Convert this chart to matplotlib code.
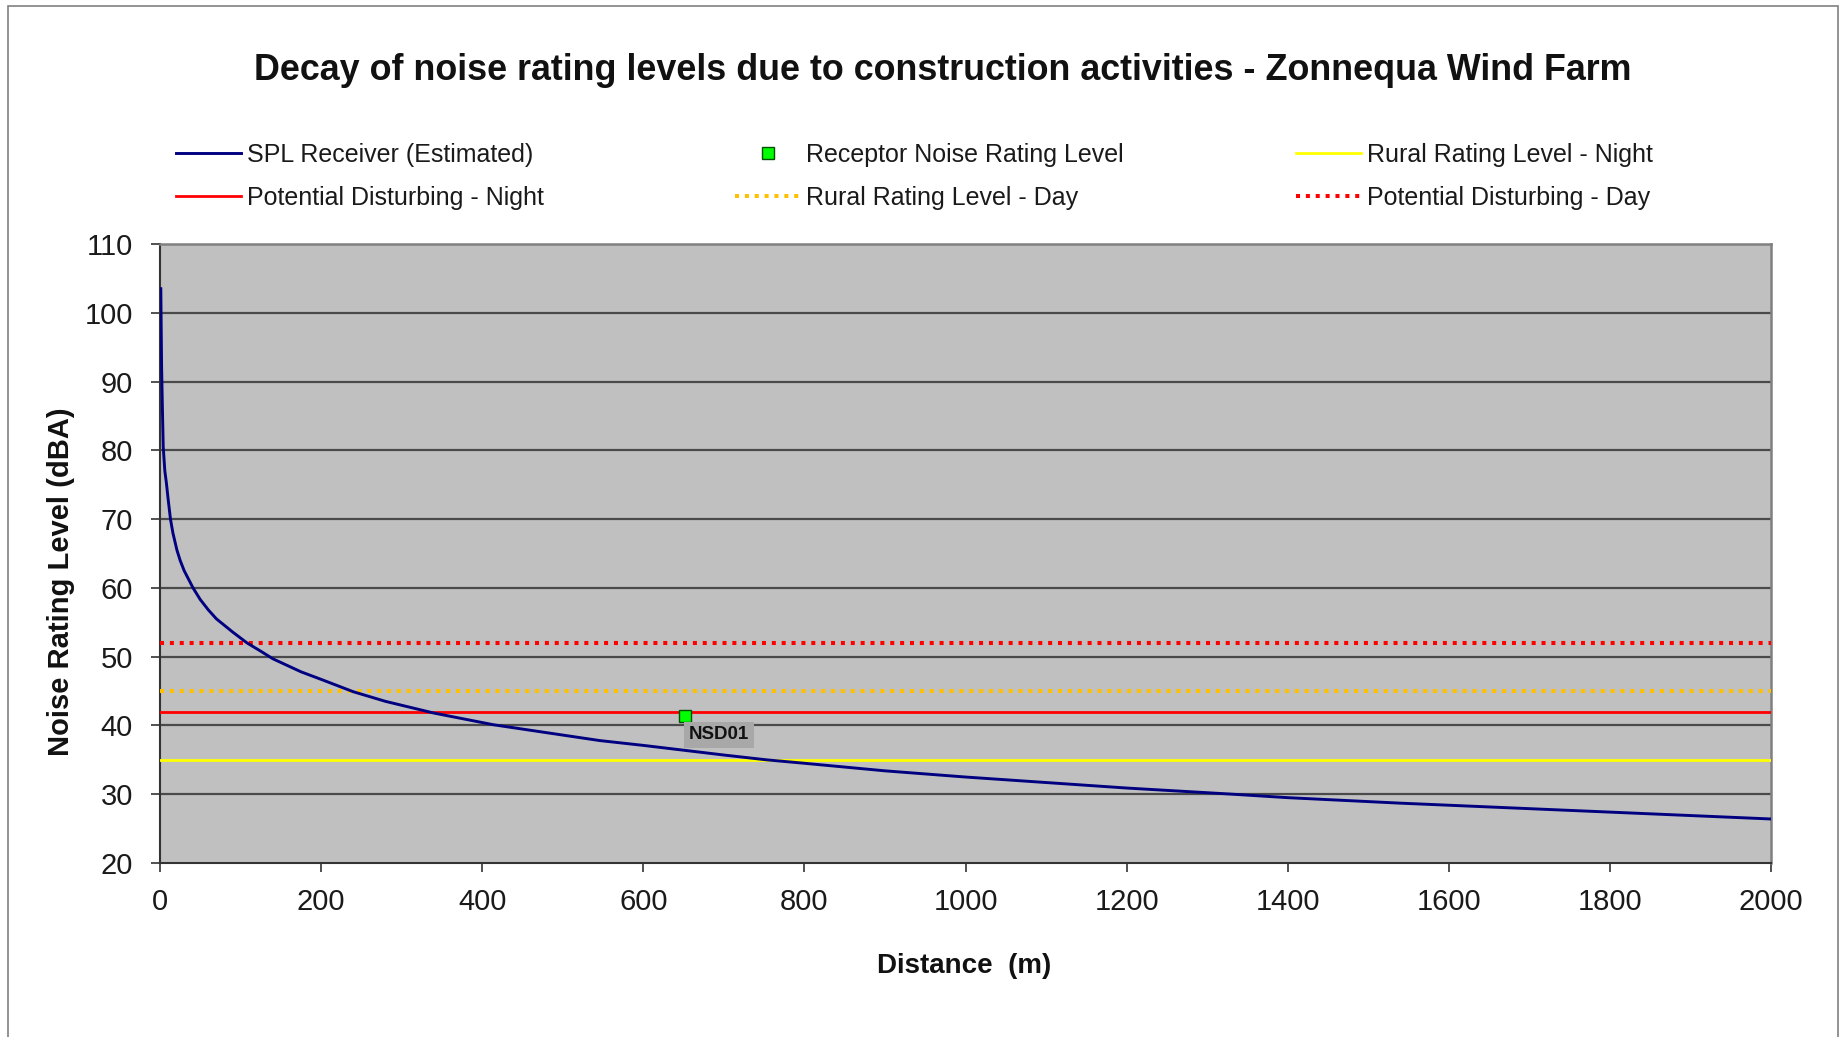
import matplotlib
matplotlib.use("Agg")
import matplotlib.pyplot as plt
from matplotlib.patches import Rectangle

plt.rcParams['font.family'] = ['Liberation Sans', 'DejaVu Sans']

# ---- data ----
distance_m = [1, 2, 3, 4, 6, 8, 10, 13, 16, 21, 25, 30, 41, 50, 60, 70, 90, 108,
              125, 140, 175, 200, 240, 280, 340, 414, 500, 546, 600, 700, 753, 800,
              900, 1000, 1100, 1200, 1332, 1400, 1540, 1600, 1700, 1800, 1900, 2000]
spl_receiver = [103.5, 92.0, 86.0, 80.5, 77.0, 75.2, 73.0, 70.0, 68.0, 65.5, 64.0, 62.5,
                60.0, 58.3, 56.8, 55.5, 53.6, 52.0, 50.8, 49.7, 47.8, 46.7, 44.9, 43.5,
                41.8, 40.1, 38.6, 37.8, 37.1, 35.7, 35.0, 34.5, 33.4, 32.5, 31.7, 30.9,
                30.0, 29.5, 28.7, 28.4, 27.9, 27.4, 26.9, 26.4]

receptor_name = ["NSD01"]
receptor_distance = [652]
receptor_level = [41.4]

rural_night = 35
rural_day = 45
disturbing_night = 42
disturbing_day = 52

x_ticks = [0, 200, 400, 600, 800, 1000, 1200, 1400, 1600, 1800, 2000]
y_ticks = [20, 30, 40, 50, 60, 70, 80, 90, 100, 110]

title = "Decay of noise rating levels due to construction activities - Zonnequa Wind Farm"
x_label = "Distance  (m)"
y_label = "Noise Rating Level (dBA)"

# ---- figure ----
W, H = 1844, 1037
fig = plt.figure(figsize=(W / 100, H / 100), dpi=100)
fig.patch.set_facecolor("white")
ax = fig.add_axes([160 / W, 1 - 863 / H, (1771 - 160) / W, (863 - 244) / H])
ax.set_facecolor("#C0C0C0")

ax.set_xlim(x_ticks[0], x_ticks[-1])
ax.set_ylim(y_ticks[0], y_ticks[-1])
ax.set_xticks(x_ticks)
ax.set_yticks(y_ticks)

for y in y_ticks[1:-1]:
    ax.axhline(y, color="#4a4a4a", lw=1.6, zorder=1)

dot = (0, (1, 1.45))
l_spl, = ax.plot(distance_m, spl_receiver, color="#000080", lw=2.1, zorder=5,
                 label="SPL Receiver (Estimated)")
l_dn = ax.axhline(disturbing_night, color="#FF0000", lw=2.0, zorder=3,
                  label="Potential Disturbing - Night")
l_rn = ax.axhline(rural_night, color="#FFFF00", lw=2.0, zorder=3,
                  label="Rural Rating Level - Night")
l_rd = ax.axhline(rural_day, color="#FFC000", lw=2.9, ls=dot, zorder=3,
                  label="Rural Rating Level - Day")
l_dd = ax.axhline(disturbing_day, color="#FF0000", lw=2.9, ls=dot, zorder=3,
                  label="Potential Disturbing - Day")
l_rec, = ax.plot(receptor_distance, receptor_level, ls="none", marker="s",
                 markersize=9, markerfacecolor="#00FF00", markeredgecolor="#005000",
                 markeredgewidth=1.0, zorder=6, label="Receptor Noise Rating Level")
for name, xd, yd in zip(receptor_name, receptor_distance, receptor_level):
    ax.annotate(name, (xd, yd), xytext=(34, -19), textcoords="offset pixels",
                ha="center", va="center", fontsize=13.5, fontweight="bold",
                color="#111111", zorder=7,
                bbox=dict(boxstyle="square,pad=0.25", facecolor="#A8A8A8",
                          edgecolor="none"))

for side in ["top", "right"]:
    ax.spines[side].set_color("#808080")
    ax.spines[side].set_linewidth(1.8)
for side in ["left", "bottom"]:
    ax.spines[side].set_color("#333333")
    ax.spines[side].set_linewidth(1.5)

ax.tick_params(axis="both", direction="out", length=6.5, width=1.2, color="#333333",
               labelsize=21, labelcolor="#1a1a1a")
ax.tick_params(axis="y", pad=13)
ax.tick_params(axis="x", pad=11.5)

fig.text(943 / W, 1 - 71 / H, title, ha="center", va="center", fontsize=25.8,
         fontweight="bold", color="#111111")
fig.text(964 / W, 1 - 966 / H, x_label, ha="center", va="center", fontsize=20,
         fontweight="bold", color="#111111")
fig.text(61 / W, 1 - 582 / H, y_label, ha="center", va="center", fontsize=21,
         fontweight="bold", rotation=90, color="#111111")

# legend: three columns
groups = [([l_spl, l_dn], 176), ([l_rec, l_rd], 735), ([l_rn, l_dd], 1296)]
for handles, xpx in groups:
    fig.legend(handles=handles, labels=[h.get_label() for h in handles],
               loc="upper left", bbox_to_anchor=(xpx / W, 1 - 143 / H),
               frameon=False, fontsize=18, handlelength=2.6,
               handletextpad=0.25, labelspacing=0.75, borderpad=0,
               borderaxespad=0, labelcolor="#1a1a1a")

# outer frame
fig.add_artist(Rectangle((8 / W, -0.05), (1838 - 8) / W, 1.05 - 6 / H,
                         transform=fig.transFigure, fill=False,
                         edgecolor="#808080", lw=1.2))

fig.savefig("out.png", dpi=100)
